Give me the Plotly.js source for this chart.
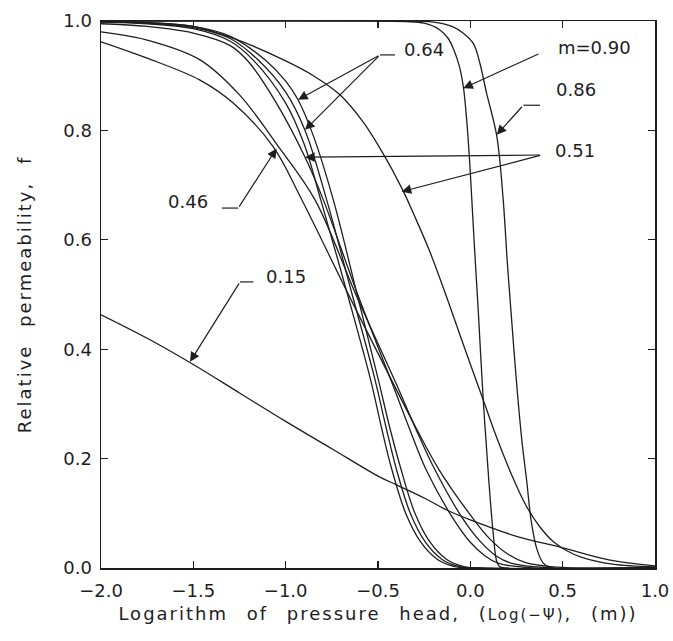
<!DOCTYPE html>
<html>
<head>
<meta charset="utf-8">
<script src="https://cdn.plot.ly/plotly-3.0.1.min.js"></script>
<style>
  html, body { margin: 0; padding: 0; background: #fff; }
  #chart { width: 673px; height: 641px; }
</style>
</head>
<body>
<div id="chart"></div>
<script>
// ---- data ----
// m = 0.15
const m15X = [-2, -1.75, -1.5, -1.25, -1, -0.75, -0.5, -0.4, -0.25, -0.128, 0, 0.25, 0.5, 0.75, 1];
const m15Y = [0.463, 0.42, 0.372, 0.32, 0.268, 0.218, 0.168, 0.152, 0.128, 0.106, 0.088, 0.058, 0.037, 0.015, 0.004];
// m = 0.90
const m90X = [-2, -0.6, -0.35, -0.25, -0.17, -0.12, -0.09, -0.06, -0.038, -0.02, -0.002, 0.02, 0.043, 0.07, 0.1, 0.124, 0.143, 0.16, 0.2, 1];
const m90Y = [1, 1, 0.999, 0.996, 0.985, 0.968, 0.948, 0.918, 0.88, 0.82, 0.734, 0.6, 0.47, 0.307, 0.16, 0.063, 0.012, 0.002, 0, 0];
// m = 0.86
const m86X = [-2, -0.4, -0.2, -0.1, -0.04, 0.016, 0.05, 0.088, 0.143, 0.178, 0.2, 0.22, 0.25, 0.28, 0.305, 0.33, 0.36, 0.395, 0.43, 1];
const m86Y = [1, 1, 0.998, 0.99, 0.978, 0.959, 0.925, 0.868, 0.79, 0.673, 0.56, 0.47, 0.34, 0.23, 0.16, 0.085, 0.035, 0.009, 0.001, 0];
// m = 0.51 (right-hand curve)
const m51bX = [-2, -1.75, -1.5, -1.25, -1.0, -0.85, -0.706, -0.58, -0.48, -0.372, -0.3, -0.219, -0.128, -0.05, 0.07, 0.15, 0.233, 0.305, 0.377, 0.45, 0.52, 0.6, 0.77, 1];
const m51bY = [0.999, 0.997, 0.99, 0.964, 0.927, 0.9, 0.865, 0.815, 0.762, 0.695, 0.642, 0.578, 0.495, 0.42, 0.307, 0.232, 0.163, 0.112, 0.075, 0.048, 0.032, 0.02, 0.007, 0.002];
// m = 0.64 (first)
const m64aX = [-2, -1.75, -1.5, -1.3, -1.112, -1.0, -0.933, -0.85, -0.742, -0.613, -0.498, -0.435, -0.375, -0.3, -0.22, -0.13, -0.04, 0.05, 1];
const m64aY = [0.999, 0.997, 0.99, 0.972, 0.929, 0.89, 0.856, 0.79, 0.673, 0.5, 0.344, 0.255, 0.18, 0.1, 0.048, 0.016, 0.003, 0, 0];
// m = 0.64 (second)
const m64bX = [-2, -1.75, -1.5, -1.3, -1.15, -1.0, -0.895, -0.778, -0.64, -0.516, -0.455, -0.4, -0.325, -0.245, -0.155, -0.065, 0.02, 1];
const m64bY = [0.999, 0.996, 0.988, 0.968, 0.929, 0.87, 0.80, 0.673, 0.5, 0.344, 0.255, 0.18, 0.1, 0.048, 0.016, 0.003, 0, 0];
// steep unlabelled curve
const steepX = [-2, -1.75, -1.5, -1.3, -1.177, -1.0, -0.9, -0.81, -0.665, -0.54, -0.48, -0.425, -0.35, -0.27, -0.18, -0.09, 0, 1];
const steepY = [0.998, 0.995, 0.986, 0.963, 0.929, 0.85, 0.775, 0.673, 0.5, 0.344, 0.255, 0.18, 0.1, 0.048, 0.016, 0.003, 0, 0];
// m = 0.51 (left-hand curve)
const m51aX = [-2, -1.75, -1.5, -1.3, -1.2, -1.05, -0.895, -0.796, -0.61, -0.42, -0.33, -0.24, -0.1, 0.0, 0.08, 0.15, 0.3, 1];
const m51aY = [0.995, 0.99, 0.978, 0.955, 0.925, 0.85, 0.751, 0.673, 0.5, 0.335, 0.255, 0.18, 0.094, 0.047, 0.022, 0.009, 0.001, 0];
// m = 0.46
const m46X = [-2, -1.75, -1.464, -1.25, -1.049, -0.841, -0.62, -0.399, -0.3, -0.2, -0.05, 0.05, 0.14, 0.22, 0.4, 1];
const m46Y = [0.98, 0.965, 0.929, 0.865, 0.775, 0.673, 0.5, 0.335, 0.258, 0.185, 0.095, 0.05, 0.022, 0.009, 0.001, 0];
// broad unlabelled curve
const broadX = [-2, -1.75, -1.464, -1.284, -1.067, -0.923, -0.66, -0.417, -0.3, -0.17, 0.0, 0.1, 0.2, 0.3, 0.5, 1];
const broadY = [0.962, 0.932, 0.892, 0.85, 0.77, 0.68, 0.5, 0.337, 0.26, 0.18, 0.097, 0.055, 0.026, 0.01, 0.001, 0];

const xTickVals = [-2, -1.5, -1, -0.5, 0, 0.5, 1];
const yTickVals = [0, 0.2, 0.4, 0.6, 0.8, 1.0];

// ---- traces ----
const series = [
  [m15X, m15Y], [m90X, m90Y], [m86X, m86Y], [m51bX, m51bY],
  [m64aX, m64aY], [m64bX, m64bY], [steepX, steepY],
  [m51aX, m51aY], [m46X, m46Y], [broadX, broadY]
];
const ink = '#1e1e1e';
const traces = series.map(s => ({
  type: 'scatter', mode: 'lines', x: s[0], y: s[1],
  line: { color: ink, width: 1.3, shape: 'spline', smoothing: 1 },
  hoverinfo: 'skip', showlegend: false
}));

// ---- labels and leaders ----
const fontLbl = { family: 'DejaVu Sans, sans-serif', size: 18, color: ink };
function label(txt, x, y) {
  return { text: txt, x: x, y: y, xref: 'x', yref: 'y', showarrow: false,
           font: fontLbl, xanchor: 'center', yanchor: 'middle' };
}
function arrow(tipX, tipY, tailX, tailY) {
  return { text: '', x: tipX, y: tipY, ax: tailX, ay: tailY,
           xref: 'x', yref: 'y', axref: 'x', ayref: 'y',
           showarrow: true, arrowhead: 2, arrowsize: 1.6, arrowwidth: 1.2,
           arrowcolor: ink, standoff: 0, startstandoff: 0 };
}
function seg(x0, y0, x1, y1) {
  return { type: 'line', xref: 'x', yref: 'y', x0: x0, y0: y0, x1: x1, y1: y1,
           line: { color: ink, width: 1.2 } };
}

const annotations = [
  label('0.64', -0.251, 0.947),
  arrow(-0.933, 0.856, -0.489, 0.938),
  arrow(-0.895, 0.801, -0.489, 0.938),
  label('m=0.90', 0.675, 0.951),
  arrow(-0.038, 0.877, 0.377, 0.941),
  label('0.86', 0.572, 0.874),
  arrow(0.143, 0.792, 0.287, 0.846),
  label('0.51', 0.567, 0.764),
  arrow(-0.895, 0.751, 0.386, 0.755),
  arrow(-0.372, 0.688, 0.386, 0.755),
  label('0.46', -1.529, 0.670),
  arrow(-1.049, 0.767, -1.257, 0.658),
  label('0.15', -0.998, 0.533),
  arrow(-1.518, 0.377, -1.247, 0.523)
];
const shapes = [
  seg(-0.489, 0.938, -0.408, 0.938),
  seg(0.287, 0.846, 0.377, 0.846),
  seg(-1.346, 0.658, -1.257, 0.658),
  seg(-1.247, 0.523, -1.175, 0.523)
];

const tickFont = { family: 'DejaVu Sans, sans-serif', size: 18, color: ink };
const axisCommon = {
  showline: true, linecolor: ink, linewidth: 1.5, mirror: 'ticks',
  ticks: 'inside', ticklen: 7, tickwidth: 1.3, tickcolor: ink,
  showgrid: false, zeroline: false, tickfont: tickFont, tickformat: '.1f',
  fixedrange: true
};

const layout = {
  width: 673, height: 641,
  margin: { l: 101, r: 18, t: 21, b: 73 },
  paper_bgcolor: '#fff', plot_bgcolor: '#fff',
  showlegend: false,
  xaxis: Object.assign({}, axisCommon, {
    range: [-2, 1], tickvals: xTickVals, ticklabelstandoff: 6,
    title: { text: '<span style="letter-spacing:2px;word-spacing:11px">Logarithm of pressure head, (<span style="font-size:15px">Log(−Ψ)</span>, (m))</span>',
             font: { family: 'DejaVu Sans, sans-serif', size: 18, color: ink }, standoff: 7 }
  }),
  yaxis: Object.assign({}, axisCommon, {
    range: [0, 1], tickvals: yTickVals, ticklabelstandoff: 4,
    title: { text: '<span style="letter-spacing:2px;word-spacing:10px">Relative permeability, f</span>',
             font: { family: 'DejaVu Sans, sans-serif', size: 18, color: ink }, standoff: 27 }
  }),
  annotations: annotations,
  shapes: shapes
};

Plotly.newPlot('chart', traces, layout, { staticPlot: true, displayModeBar: false });
</script>
</body>
</html>
